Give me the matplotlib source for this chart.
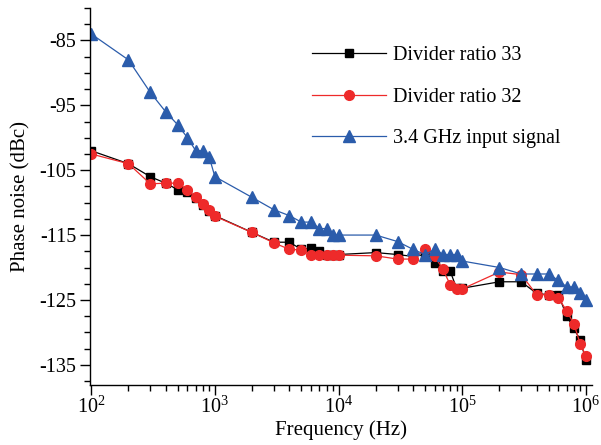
import numpy as np
import matplotlib
matplotlib.use("Agg")
import matplotlib.pyplot as plt
from matplotlib.ticker import MultipleLocator, LogLocator, LogFormatterMathtext, NullFormatter

plt.rcParams['font.family'] = ['Liberation Serif', 'DejaVu Serif']
plt.rcParams['mathtext.fontset'] = 'custom'
plt.rcParams['mathtext.rm'] = 'Liberation Serif'
plt.rcParams['axes.unicode_minus'] = False

# frequency offsets (Hz)
freq = [1e2, 2e2, 3e2, 4e2, 5e2, 6e2, 7e2, 8e2, 9e2,
        1e3, 2e3, 3e3, 4e3, 5e3, 6e3, 7e3, 8e3, 9e3,
        1e4, 2e4, 3e4, 4e4, 5e4, 6e4, 7e4, 8e4, 9e4,
        1e5, 2e5, 3e5, 4e5, 5e5, 6e5, 7e5, 8e5, 9e5, 1e6]

# phase noise (dBc)
ratio33 = [-102, -104, -106, -107, -108, -108.3, -109.3, -110.3, -111.3,
           -112, -114.6, -116.1, -116.1, -117.2, -117, -117.5, -118, -118,
           -118, -117.7, -118, -118.3, -118, -119.3, -120.5, -120.6, -123.2,
           -123.2, -122.2, -122.2, -124, -124.2, -124.2, -127.5, -129.4, -131.2, -134.3]
ratio32 = [-102.5, -104, -107.1, -107, -107, -108, -109.2, -110.2, -111.2,
           -112.1, -114.6, -116.2, -117.2, -117.3, -118.1, -118.1, -118.1, -118.1,
           -118.1, -118.2, -118.7, -118.7, -117.2, -118.3, -120.3, -122.7, -123.3,
           -123.3, -120.7, -121.1, -124.2, -124.2, -124.7, -126.7, -128.7, -131.8, -133.6]
input_sig = [-84, -88, -93, -96, -98, -100, -102, -102, -103,
             -106, -109.2, -111.1, -112, -113, -113, -114, -114, -115,
             -115, -115, -116, -117.2, -118, -117.2, -118, -118, -118,
             -119, -120, -121, -121, -121, -122, -123, -123, -124, -125]

fig = plt.figure(figsize=(6.01, 4.45), dpi=100)
ax = fig.add_axes([0.150, 0.135, 0.835, 0.847])

ax.plot(freq, ratio33, color='black', marker='s', markersize=6, lw=0.9,
        label='Divider ratio 33')
ax.plot(freq, ratio32, color='#ee2a2a', marker='o', markersize=7, lw=0.9,
        label='Divider ratio 32')
ax.plot(freq, input_sig, color='#2b5cab', marker='^', markersize=8, lw=0.9,
        label='3.4 GHz input signal')

ax.set_xscale('log')
ax.set_xlim(0.98e2, 1.12e6)
ax.set_ylim(-138.1, -80)
ax.set_yticks([-85, -95, -105, -115, -125, -135])
ax.yaxis.set_minor_locator(MultipleLocator(2.5))
ax.xaxis.set_major_locator(LogLocator(base=10, numticks=10))
ax.xaxis.set_major_formatter(LogFormatterMathtext())
ax.xaxis.set_minor_locator(LogLocator(base=10, subs=np.arange(2, 10), numticks=20))
ax.xaxis.set_minor_formatter(NullFormatter())

for s in ['top', 'right']:
    ax.spines[s].set_visible(False)
for s in ['left', 'bottom']:
    ax.spines[s].set_linewidth(1.0)

ax.tick_params(which='major', direction='out', length=7, width=1.0, labelsize=14.5)
ax.tick_params(which='minor', direction='out', length=4, width=1.0)
ax.tick_params(axis='y', pad=3)
ax.tick_params(axis='x', pad=1.5)

ax.set_xlabel('Frequency (Hz)', fontsize=15, labelpad=2)
ax.set_ylabel('Phase noise (dBc)', fontsize=15, labelpad=6)

ax.legend(loc='upper left', bbox_to_anchor=(0.442, 0.899), frameon=False,
          fontsize=14.5, handlelength=3.7, handletextpad=0.3, labelspacing=1.12,
          borderpad=0, borderaxespad=0)

fig.savefig('out.png', dpi=100)
